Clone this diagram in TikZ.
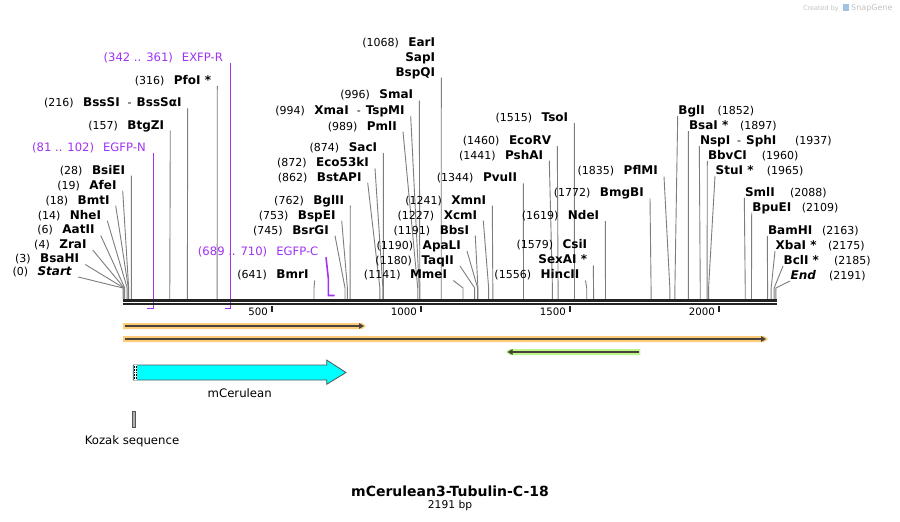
\documentclass[tikz,border=0pt]{standalone}
\usepackage{fontspec}
\setmainfont{DejaVu Sans}
\usetikzlibrary{arrows.meta}
\definecolor{cutc}{RGB}{125,125,125}
\definecolor{primc}{RGB}{160,50,245}
\definecolor{seqc}{RGB}{35,35,35}
\definecolor{orh}{RGB}{252,204,122}
\definecolor{grh}{RGB}{190,245,140}
\definecolor{darkl}{RGB}{72,66,58}
\definecolor{cyanf}{RGB}{0,255,255}
\definecolor{featedge}{RGB}{85,85,85}
\definecolor{kozf}{RGB}{175,175,175}
\definecolor{wm}{RGB}{195,195,195}
\definecolor{wmlogo}{RGB}{160,195,225}
\newcommand{\nmf}{\fontsize{12}{14}\selectfont\bfseries}
\newcommand{\nuf}{\fontsize{11}{13}\selectfont\mdseries}
\newcommand{\numtxt}[1]{{\nuf #1}}
\newcommand{\gp}{\hspace{9.5pt}}
\newcommand{\dsh}{\hspace{8pt}{\nuf -}\hspace{5pt}}
\newcommand{\xp}[1]{123+0.298*#1}
\tikzset{
  cut/.style={draw=cutc, line width=0.9pt},
  labL/.style={anchor=south east, inner xsep=6pt, inner ysep=1.5pt, text depth=0pt, font=\nmf},
  labR/.style={anchor=south west, inner xsep=0.5pt, inner ysep=1.5pt, text depth=0pt, font=\nmf},
  num/.style={anchor=base west, inner sep=0pt, font=\nuf},
  prim/.style={anchor=south east, inner xsep=7.5pt, inner ysep=1.5pt, text depth=0pt, text=primc, font=\fontsize{11.6}{13}\selectfont},
  primline/.style={draw=primc, line width=1.6pt, line join=miter},
  seqline/.style={draw=seqc, line width=2.7pt},
  tick/.style={draw=seqc, line width=1.8pt},
  ticklab/.style={anchor=base east, inner sep=0pt, font=\fontsize{10.2}{12}\selectfont},
  orfill/.style={fill=orh},
  grfill/.style={fill=grh},
  featline/.style={draw=darkl, line width=2pt, -{Triangle[length=5pt,width=5.5pt]}},
  featlab/.style={anchor=base, inner sep=0pt, font=\fontsize{11.7}{13}\selectfont},
}
\newcommand{\enzL}[5]{%
  \node[labL] (#1) at (#2,#3) {#5};
  \draw[cut] (#1.south east) -- ({\xp{#4}},288) -- ({\xp{#4}},299);}
\newcommand{\enzR}[7]{%
  \node[labR] (#1) at (#2,#3) {#5};
  \node[num] (#1n) at (#6,{#3-1.5}) {#7};
  \draw[cut] (#1.south west) -- ({\xp{#4}},288) -- ({\xp{#4}},299);}
\begin{document}
\begin{tikzpicture}[x=1pt,y=-1pt]
\fill[white] (0,0) rectangle (900,522);
\useasboundingbox (0,0) rectangle (900,522);

% watermark
\node[anchor=base east, inner sep=0pt, text=wm, font=\fontsize{6.5}{7}\selectfont] (wm1) at (839,10) {Created by};
\fill[wmlogo] (843,4) rectangle (849,11);
\node[anchor=base west, inner sep=0pt, text=wm, font=\fontsize{8}{9}\selectfont] (wm2) at (851,10.5) {SnapGene};

% primers (drawn below the sequence line)
\node[prim] (exfpr) at (230.6,62.7) {(342 .. 361)\hspace{9pt}EXFP-R};
\draw[primline] (exfpr.south east) -- (230.6,308.3) -- (224.9,308.3);
\node[prim] (egfpn) at (153.4,152.7) {(81 .. 102)\hspace{9pt}EGFP-N};
\draw[primline] (egfpn.south east) -- (153.4,308.3) -- (147.1,308.3);
\node[prim] (egfpc) at (326,257.3) {(689 .. 710)\hspace{9pt}EGFP-C};
\draw[primline] (egfpc.south east) -- (328.3,278) -- (328.3,295.5) -- (334.6,295.5);

% left cluster
\enzL{startlbl}{78.3}{277}{0}{\numtxt{(0)}\gp\textit{Start}}
\enzL{bsahi}{85.3}{264.5}{3}{\numtxt{(3)}\gp BsaHI}
\enzL{zrai}{92.7}{250}{4}{\numtxt{(4)}\gp ZraI}
\enzL{aatii}{100.7}{235.5}{6}{\numtxt{(6)}\gp AatII}
\enzL{nhei}{107.3}{220.7}{14}{\numtxt{(14)}\gp NheI}
\enzL{bmti}{115.7}{205.7}{18}{\numtxt{(18)}\gp BmtI}
\enzL{afei}{122.7}{190.7}{19}{\numtxt{(19)}\gp AfeI}
\enzL{bsiei}{131.3}{175.7}{28}{\numtxt{(28)}\gp BsiEI}
\enzL{btgzi}{170.3}{130.7}{157}{\numtxt{(157)}\gp BtgZI}
\enzL{bsssi}{187.7}{108}{216}{\numtxt{(216)}\gp BssSI\dsh BssSαI}
\enzL{pfoi}{217.3}{86}{316}{\numtxt{(316)}\gp PfoI *}

% middle
\enzL{bmri}{314.7}{280.5}{641}{\numtxt{(641)}\gp BmrI}
\enzL{bsrgi}{335}{235.7}{745}{\numtxt{(745)}\gp BsrGI}
\enzL{bspei}{341.7}{220.7}{753}{\numtxt{(753)}\gp BspEI}
\enzL{bglii}{350.3}{205.7}{762}{\numtxt{(762)}\gp BglII}
\enzL{bstapi}{367.7}{182.7}{862}{\numtxt{(862)}\gp BstAPI}
\enzL{ecoi}{375}{168.3}{872}{\numtxt{(872)}\gp Eco53kI}
\enzL{saci}{383.3}{153}{874}{\numtxt{(874)}\gp SacI}
\enzL{pmli}{403}{131.7}{989}{\numtxt{(989)}\gp PmlI}
\enzL{xmai}{410.7}{116.2}{994}{\numtxt{(994)}\gp XmaI\dsh TspMI}
\enzL{smai}{419.3}{100.5}{996}{\numtxt{(996)}\gp SmaI}
\node[labL] (eari) at (441.3,48.3) {\numtxt{(1068)}\gp EarI};
\node[labL] (sapi) at (441.3,62.7) {SapI};
\enzL{bspqi}{441.3}{77.7}{1068}{BspQI}
\enzL{mmei}{453.3}{280.5}{1141}{\numtxt{(1141)}\gp MmeI}
\enzL{taqii}{460}{266}{1180}{\numtxt{(1180)}\gp TaqII}
\enzL{apali}{467}{251}{1190}{\numtxt{(1190)}\gp ApaLI}
\enzL{bbsi}{475.3}{235.7}{1191}{\numtxt{(1191)}\gp BbsI}
\enzL{xcmi}{483.3}{220.7}{1227}{\numtxt{(1227)}\gp XcmI}
\enzL{xmni}{492.3}{205.7}{1241}{\numtxt{(1241)}\gp XmnI}
\enzL{pvuii}{523.3}{183.3}{1344}{\numtxt{(1344)}\gp PvuII}
\enzL{pshai}{549.3}{160.7}{1441}{\numtxt{(1441)}\gp PshAI}
\enzL{ecorv}{557.3}{146}{1460}{\numtxt{(1460)}\gp EcoRV}
\enzL{tsoi}{574.3}{123}{1515}{\numtxt{(1515)}\gp TsoI}
\enzL{hincii}{585.5}{280.5}{1556}{\numtxt{(1556)}\gp HincII}
\node[labL] (csii) at (593.3,250.5) {\numtxt{(1579)}\gp CsiI};
\enzL{sexai}{593.3}{265.5}{1579}{SexAI *}
\enzL{ndei}{605.3}{221}{1619}{\numtxt{(1619)}\gp NdeI}
\enzL{bmgbi}{650}{198.3}{1772}{\numtxt{(1772)}\gp BmgBI}
\enzL{pflmi}{664}{176.5}{1835}{\numtxt{(1835)}\gp PflMI}

% right cluster
\enzR{bgli}{677.7}{116}{1852}{BglI}{717.3}{(1852)}
\enzR{bsai}{688.3}{131}{1897}{BsaI *}{740}{(1897)}
\enzR{nspi}{699.3}{146}{1937}{NspI\hspace{7pt}{\nuf -}\hspace{5pt}SphI}{795}{(1937)}
\enzR{bbvci}{707.3}{161}{1960}{BbvCI}{761.7}{(1960)}
\enzR{stui}{715}{176}{1965}{StuI *}{766.7}{(1965)}
\enzR{smli}{744.3}{197.7}{2088}{SmlI}{790}{(2088)}
\enzR{bpuei}{751.7}{212.7}{2109}{BpuEI}{801.7}{(2109)}
\enzR{bamhi}{767.3}{236}{2163}{BamHI}{822}{(2163)}
\enzR{xbai}{775}{251}{2175}{XbaI *}{828}{(2175)}
\enzR{bcli}{783}{266}{2185}{BclI *}{834}{(2185)}
\enzR{endlbl}{790}{281}{2191}{\textit{End}}{829}{(2191)}

% sequence line
\coordinate (sa) at (123,300.3);
\coordinate (sb) at (777,300.3);
\coordinate (sc) at (123,304);
\coordinate (sd) at (777,304);
\draw[seqline] (sa) -- (sb);
\draw[seqline] (sc) -- (sd);

% ruler
\foreach \p/\lab in {500/t5,1000/t10,1500/t15,2000/t20}{
  \coordinate (\lab) at ({\xp{\p}},306);
  \draw[tick] (\lab) -- ++(0,6);
  \node[ticklab] at ({\xp{\p}-4},315.4) {\p};
}

% features
\fill[orfill] (123,323) -- (362,323) -- (366,326) -- (362,329) -- (123,329) -- cycle;
\draw[featline] (125,326) -- (364,326);
\fill[orfill] (123,336) -- (764,336) -- (768,339) -- (764,342) -- (123,342) -- cycle;
\draw[featline] (125,339) -- (766,339);
\fill[grfill] (640.4,349) -- (509.8,349) -- (505.8,352) -- (509.8,355) -- (640.4,355) -- cycle;
\draw[featline] (638.5,352) -- (507.5,352);

% mCerulean arrow
\draw[fill=cyanf, draw=featedge, line width=0.8pt, line join=miter]
  (133.3,365) -- (326.7,365) -- (326.7,360) -- (346,372.5) -- (326.7,384.3) -- (326.7,380) -- (133.3,380) -- cycle;
\fill[white] (133.7,365.4) rectangle (137,379.6);
\draw[black, line width=0.6pt, dash pattern=on 0.8pt off 0.8pt] (134.3,365.5) -- (134.3,379.5);
\draw[black, line width=0.6pt, dash pattern=on 0.8pt off 0.8pt] (136.3,365.5) -- (136.3,379.5);
\node[featlab] (mcer) at (239.7,397.6) {mCerulean};

% Kozak
\draw[fill=kozf, draw=featedge, line width=0.7pt] (132.3,411) rectangle (135,427.3);
\node[featlab] (kozak) at (132,444.3) {Kozak sequence};

% title
\node[anchor=base, inner sep=0pt, font=\fontsize{14}{16}\selectfont\bfseries] (title) at (450,496.8) {mCerulean3-Tubulin-C-18};
\node[anchor=base, inner sep=0pt, font=\fontsize{10.7}{12}\selectfont] (bplen) at (450,508.9) {2191 bp};
\end{tikzpicture}
\end{document}
